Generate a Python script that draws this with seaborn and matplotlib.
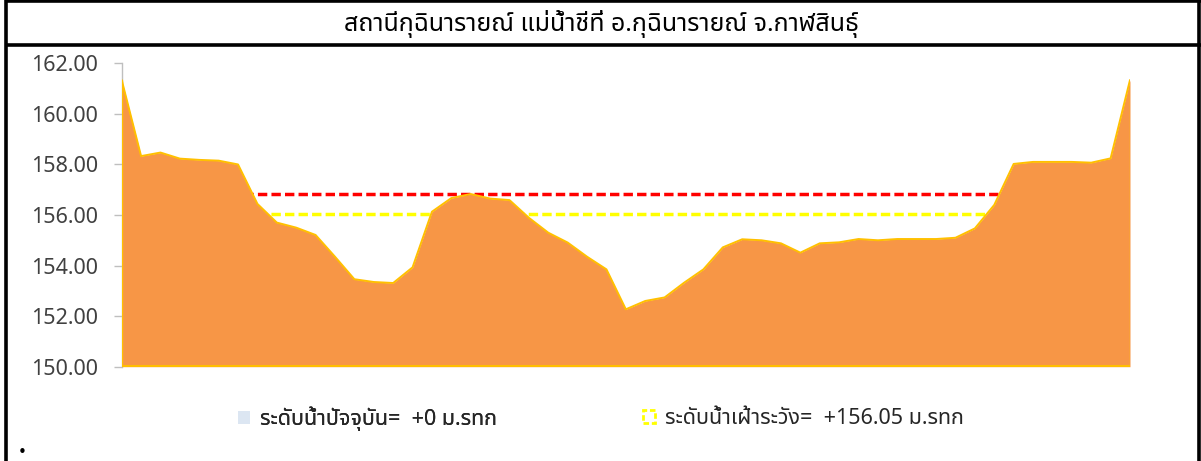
import matplotlib
matplotlib.use("Agg")
import matplotlib.pyplot as plt
from matplotlib.lines import Line2D
from matplotlib.patches import Patch
from matplotlib.ticker import FormatStrFormatter
import numpy as np
import pandas as pd
import seaborn as sns

# ---- data ----
title = "สถานีกุฉินารายณ์ แม่น้ำชีที่ อ.กุฉินารายณ์ จ.กาฬสินธุ์"
bed_level = [161.34, 158.33, 158.47, 158.23, 158.18, 158.15, 158.00, 156.44, 155.70, 155.50,
             155.21, 154.35, 153.46, 153.35, 153.31, 153.93, 156.13, 156.67, 156.83, 156.65,
             156.59, 155.89, 155.30, 154.91, 154.35, 153.85, 152.27, 152.60, 152.74, 153.32,
             153.85, 154.72, 155.04, 155.00, 154.88, 154.51, 154.88, 154.92, 155.05, 155.00,
             155.05, 155.05, 155.05, 155.10, 155.47, 156.40, 158.02, 158.10, 158.10, 158.10,
             158.07, 158.24, 161.34]
bank_full_level = 156.82
warning_level = 156.05
current_level_label = "ระดับน้ำปัจจุบัน=  +0 ม.รทก"
warning_label = "ระดับน้ำเฝ้าระวัง=  +156.05 ม.รทก"
y_ticks = [150, 152, 154, 156, 158, 160, 162]

df = pd.DataFrame({"station": np.arange(len(bed_level)), "level": bed_level})

sns.set_theme(style="white")
plt.rcParams["font.family"] = ["Noto Sans Thai", "Noto Sans", "DejaVu Sans"]

W, H = 1201, 461
fig = plt.figure(figsize=(W / 100, H / 100), dpi=100)
fig.patch.set_facecolor("white")

left_px, right_px, top_px, bot_px = 121.7, 1130.0, 63.3, 366.7
ax = fig.add_axes([left_px / W, 1 - bot_px / H, (right_px - left_px) / W, (bot_px - top_px) / H])
ax.set_facecolor("none")

n = len(bed_level)
# reference lines behind the area
ax.plot([0, n - 1], [bank_full_level] * 2, color="#FF0000", lw=2.5, dashes=(2.7, 1.2), zorder=1)
ax.plot([0, n - 1], [warning_level] * 2, color="#FFFF00", lw=2.5, dashes=(2.7, 1.2), zorder=1)

# area
ax.fill_between(df["station"], 150, df["level"], color="#F79646", lw=0, zorder=2)
sns.lineplot(data=df, x="station", y="level", ax=ax, color="#FFC000", lw=1.4, zorder=3, legend=False)
ax.plot([0, n - 1], [150.02, 150.02], color="#FFC000", lw=1.4, zorder=3)
ax.plot([0, 0], [150, bed_level[0]], color="#FFC000", lw=1.0, zorder=3)
ax.plot([n - 1, n - 1], [150, bed_level[-1]], color="#FFC000", lw=1.0, zorder=3)

ax.set_xlim(0, n - 1)
ax.set_ylim(150, 162)
ax.set_yticks(y_ticks)
ax.yaxis.set_major_formatter(FormatStrFormatter("%.2f"))
ax.set_xticks([])
ax.set_xlabel("")
ax.set_ylabel("")
for s in ["top", "right", "bottom"]:
    ax.spines[s].set_visible(False)
ax.spines["left"].set_color("#BFBFBF")
ax.spines["left"].set_linewidth(1.0)
ax.spines["left"].set_zorder(0)
ax.tick_params(axis="y", which="major", left=True, length=6, width=1.0, color="#BFBFBF",
               labelsize=15.5, labelcolor="#404040", pad=11)
for lab in ax.get_yticklabels():
    lab.set_family(["Noto Sans", "DejaVu Sans"])

# title
fig.text(601 / W, 1 - 24 / H, title, ha="center", va="center", fontsize=18, color="#000000",
         family=["Noto Sans Thai", "Noto Sans"], fontweight="light")

# legend (two entries placed separately)
leg_kw = dict(loc="center left", frameon=False, fontsize=15.5, handlelength=0.55,
              handleheight=0.55, handletextpad=0.45, borderaxespad=0, borderpad=0)
leg1 = fig.legend([Patch(facecolor="#DCE6F2", edgecolor="none")], [current_level_label],
                  bbox_to_anchor=(238 / W, 1 - 419 / H), **leg_kw)
fig.add_artist(leg1)
leg2 = fig.legend([Patch(facecolor="none", edgecolor="#FFFF00", linestyle=(0, (2, 1)), linewidth=2.0)],
                  [warning_label], bbox_to_anchor=(643 / W, 1 - 419 / H), **leg_kw)
for lg in (leg1, leg2):
    for t in lg.get_texts():
        t.set_color("#262626")

# frame lines
def fline(x0, y0, x1, y1, lw=2.6):
    fig.add_artist(Line2D([x0 / W, x1 / W], [1 - y0 / H, 1 - y1 / H], transform=fig.transFigure,
                          color="black", lw=lw, solid_capstyle="butt"))

fline(5, 1.5, 1201, 1.5)
fline(5, 45, 1201, 45)
fline(6, 0, 6, 461)
fline(1199, 0, 1199, 461)

fig.text(22 / W, 1 - 452 / H, "•", ha="center", va="center", fontsize=11, color="black",
         family=["DejaVu Sans"])

fig.savefig("out.png", dpi=100, facecolor="white")
